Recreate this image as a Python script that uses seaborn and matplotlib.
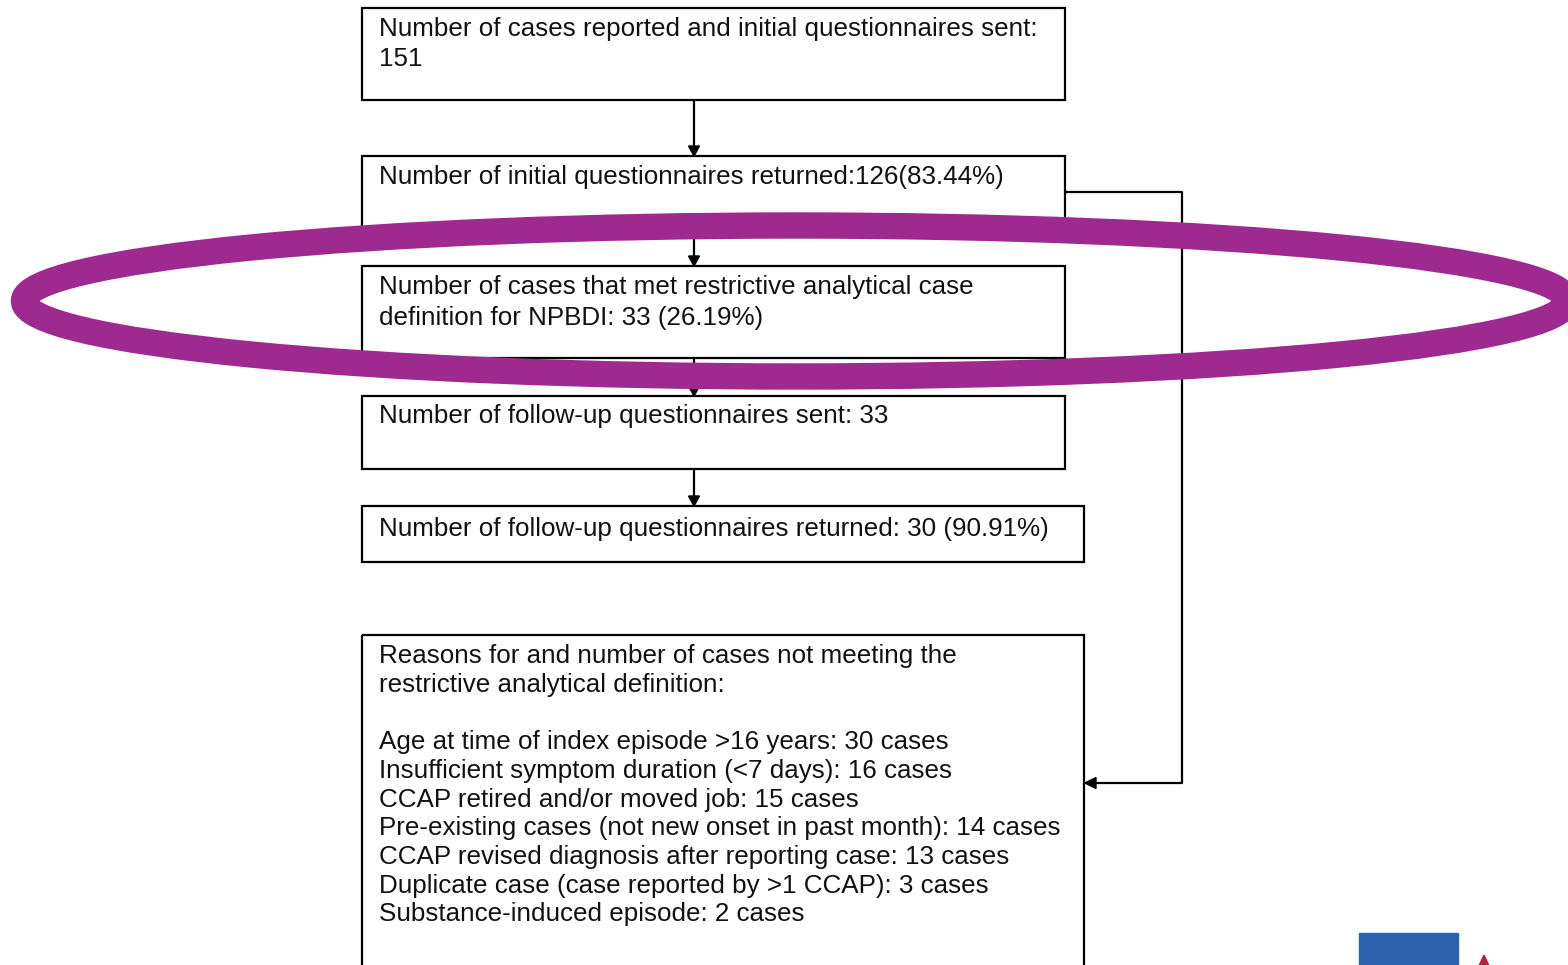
import matplotlib
matplotlib.use("Agg")
import matplotlib.pyplot as plt
import seaborn as sns
from matplotlib.patches import Rectangle, Ellipse, Polygon

sns.set_theme(style="white")
plt.rcParams['font.family'] = ['Liberation Sans', 'DejaVu Sans']

# ---- content ----
box_texts = [
    ["Number of cases reported and initial questionnaires sent:", "151"],
    ["Number of initial questionnaires returned:126(83.44%)"],
    ["Number of cases that met restrictive analytical case", "definition for NPBDI: 33 (26.19%)"],
    ["Number of follow-up questionnaires sent: 33"],
    ["Number of follow-up questionnaires returned: 30 (90.91%)"],
]
reasons_header = ["Reasons for and number of cases not meeting the",
                  "restrictive analytical definition:"]
reason_labels = [
    "Age at time of index episode >16 years",
    "Insufficient symptom duration (<7 days)",
    "CCAP retired and/or moved job",
    "Pre-existing cases (not new onset in past month)",
    "CCAP revised diagnosis after reporting case",
    "Duplicate case (case reported by >1 CCAP)",
    "Substance-induced episode",
]
reason_counts = [30, 16, 15, 14, 13, 3, 2]

# ---- layout (pixels, y downward) ----
W, H = 1568, 965
box_geom = [  # x0, y0, x1, y1
    (362, 8, 1065, 100),
    (362, 156, 1065, 234),
    (362, 266, 1065, 358),
    (362, 396, 1065, 469),
    (362, 506, 1084, 562),
]
reasons_box = (362, 635, 1084, 990)
line_y = [[29, 59], [177], [287, 318], [416], [529]]
reasons_y0, reasons_dy = 656, 28.7
text_x = 379
fs = 18.7

fig = plt.figure(figsize=(W / 100, H / 100), dpi=100)
ax = fig.add_axes([0, 0, 1, 1])
ax.set_xlim(0, W)
ax.set_ylim(H, 0)
ax.axis("off")

lw = 1.6
for (x0, y0, x1, y1) in box_geom + [reasons_box]:
    ax.add_patch(Rectangle((x0, y0), x1 - x0, y1 - y0, fill=False,
                           edgecolor="black", linewidth=lw, zorder=2))

for lines, ys in zip(box_texts, line_y):
    for t, y in zip(lines, ys):
        ax.text(text_x, y, t, fontsize=fs, va="center", ha="left",
                color="#111111", zorder=3)

reason_lines = reasons_header + [""] + [f"{l}: {c} cases" for l, c in zip(reason_labels, reason_counts)]
for i, t in enumerate(reason_lines):
    ax.text(text_x, reasons_y0 + i * reasons_dy, t, fontsize=fs, va="center",
            ha="left", color="#111111", zorder=3)

def arrow_down(x, y0, y1):
    ax.plot([x, x], [y0, y1 - 9], color="black", lw=lw, zorder=2)
    ax.add_patch(Polygon([(x - 5.5, y1 - 10), (x + 5.5, y1 - 10), (x, y1)],
                         closed=True, color="black", zorder=2))

ax_x = 694
for (a, b) in zip(box_geom[:-1], box_geom[1:]):
    arrow_down(ax_x, a[3], b[1])

# side connector
ax.plot([1065, 1182, 1182, 1096], [192, 192, 783, 783], color="black", lw=lw, zorder=2)
ax.add_patch(Polygon([(1096, 777.5), (1096, 788.5), (1085, 783)], closed=True,
                     color="black", zorder=2))

# highlight ellipse
ax.add_patch(Ellipse((795.5, 301), 1543, 151, fill=False, edgecolor="#9f2a8f",
                     linewidth=19, zorder=5))

# logo fragments bottom right
ax.add_patch(Rectangle((1359, 933), 99, 40, color="#2c62ae", zorder=4))
ax.add_patch(Polygon([(1478, 968), (1484, 955), (1490, 968)], closed=True,
                     color="#b0243c", zorder=4))

fig.savefig("out.png", dpi=100)
